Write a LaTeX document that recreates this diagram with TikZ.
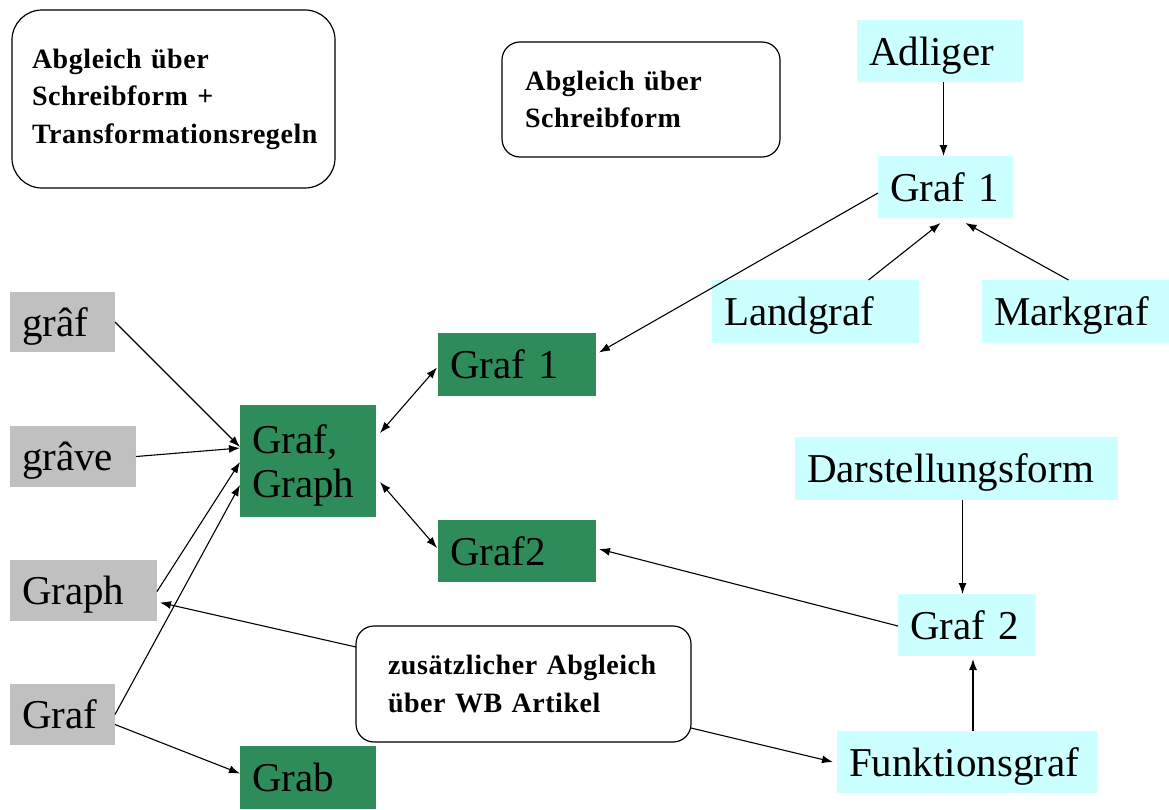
\documentclass[tikz,border=0pt]{standalone}
\usepackage{fontspec}
\setmainfont{Liberation Serif}
\newfontfamily\notefont[LetterSpace=2.0]{Liberation Serif}
\usetikzlibrary{arrows.meta,calc}
\definecolor{boxgreen}{RGB}{46,140,90}
\definecolor{boxcyan}{RGB}{204,255,255}
\definecolor{boxgray}{RGB}{192,192,192}
\begin{document}
\begin{tikzpicture}[x=1pt,y=-1pt,
  lbl/.style={anchor=north west, inner xsep=12pt, inner ysep=0pt, outer sep=0pt,
     text depth=0pt, align=left, font=\fontsize{41}{44}\selectfont},
  cy/.style={lbl, fill=boxcyan},
  gn/.style={lbl, fill=boxgreen},
  gy/.style={lbl, fill=boxgray},
  rbox/.style={anchor=north west, draw, line width=1.2pt, outer sep=0pt, inner ysep=0pt,
     align=left, font=\notefont\fontsize{28}{37.5}\selectfont\bfseries},
  arr/.style={line width=1.1pt, -{Latex[length=11pt,width=8pt]}},
  darr/.style={line width=1.1pt, {Latex[length=11pt,width=8pt]}-{Latex[length=11pt,width=8pt]}}
]
\path[use as bounding box, fill=white] (0,0) rectangle (1169,809);

% rounded comment boxes
\node[rbox, rounded corners=30pt, inner xsep=20pt, text width=283pt, minimum height=178pt] (b1) at (12,10)
  {Abgleich über\\Schreibform +\\Transformationsregeln};
\node[rbox, rounded corners=18pt, inner xsep=23pt, text width=232pt, minimum height=115pt] (b2) at (502,42)
  {Abgleich über\\Schreibform};
\node[rbox, rounded corners=18pt, inner xsep=32pt, text width=271pt, minimum height=116pt] (b3) at (356,626)
  {zusätzlicher Abgleich\\über WB Artikel};

% cyan nodes
\node[cy, text width=142pt, minimum height=62pt] (adl) at (857,20) {Adliger};
\node[cy, text width=111pt, minimum height=62pt] (g1c) at (878,156) {Graf 1};
\node[cy, text width=183pt, minimum height=63pt] (land) at (712,280) {Landgraf};
\node[cy, text width=163pt, minimum height=63pt] (mark) at (982,280) {Markgraf};
\node[cy, text width=299pt, minimum height=63pt] (dar) at (795,437) {Darstellungsform};
\node[cy, text width=113pt, minimum height=62pt] (g2c) at (898,594) {Graf 2};
\node[cy, text width=236pt, minimum height=62pt] (funk) at (837,731) {Funktionsgraf};

% green nodes
\node[gn, text width=134pt, minimum height=63pt] (g1g) at (438,333) {Graf 1};
\node[gn, text width=112pt, minimum height=112pt, text depth=44pt] (gg) at (240,405) {Graf,\\Graph};
\node[gn, text width=134pt, minimum height=62pt] (g2g) at (438,520) {Graf2};
\node[gn, text width=112pt, minimum height=63pt] (grab) at (240,746) {Grab};

% gray nodes
\node[gy, text width=81pt, minimum height=60pt] (ghat) at (10,292) {grâf};
\node[gy, text width=102pt, minimum height=61pt] (grave) at (10,426) {grâve};
\node[gy, text width=123pt, minimum height=61pt] (graph) at (10,560) {Graph};
\node[gy, text width=81pt, minimum height=61pt] (graf) at (10,684) {Graf};

% connectors left
\draw[arr] (ghat.east) -- ([yshift=14pt]gg.west);
\draw[arr] (grave.east) -- ([yshift=13pt]gg.west);
\draw[arr] ([yshift=-1pt]graph.east) -- ([yshift=-1pt]gg.west);
\draw[arr] (graf.east) -- ([yshift=-24pt]gg.west);
\draw[arr] ([yshift=-10pt]graf.east) -- ([yshift=4pt]grab.west);

% double arrows
\draw[darr] ([xshift=4pt,yshift=28pt]gg.east) -- ([xshift=-1pt,yshift=-3pt]g1g.west);
\draw[darr] ([xshift=4pt,yshift=-21pt]gg.east) -- ([xshift=-1pt,yshift=3pt]g2g.west);

% right side
\draw[arr] ([yshift=-6pt]g1c.west) -- ([xshift=3pt,yshift=12pt]g1g.east);
\draw[arr] ([xshift=-2pt]g1c.north |- adl.south) -- ([xshift=-2pt]g1c.north);
\draw[arr] ([xshift=53pt]land.north) -- ([xshift=-5pt,yshift=-5pt]g1c.south);
\draw[arr] ([xshift=-7pt]mark.north) -- ([xshift=20pt,yshift=-5pt]g1c.south);
\draw[arr] ([xshift=6pt]dar.south) -- ([xshift=6pt]dar.south |- g2c.north);
\draw[arr] ([xshift=6pt]funk.north) -- ([xshift=6pt,yshift=-3pt]funk.north |- g2c.south);
\draw[arr] ([yshift=-1pt]g2c.west) -- ([xshift=3pt,yshift=2pt]g2g.east);

% from comment box
\draw[arr] ([yshift=37pt]b3.west) -- ([xshift=3pt,yshift=-12pt]graph.east);
\draw[arr] ([yshift=-44pt]b3.east) -- ([xshift=-4pt]funk.west);
\end{tikzpicture}
\end{document}
